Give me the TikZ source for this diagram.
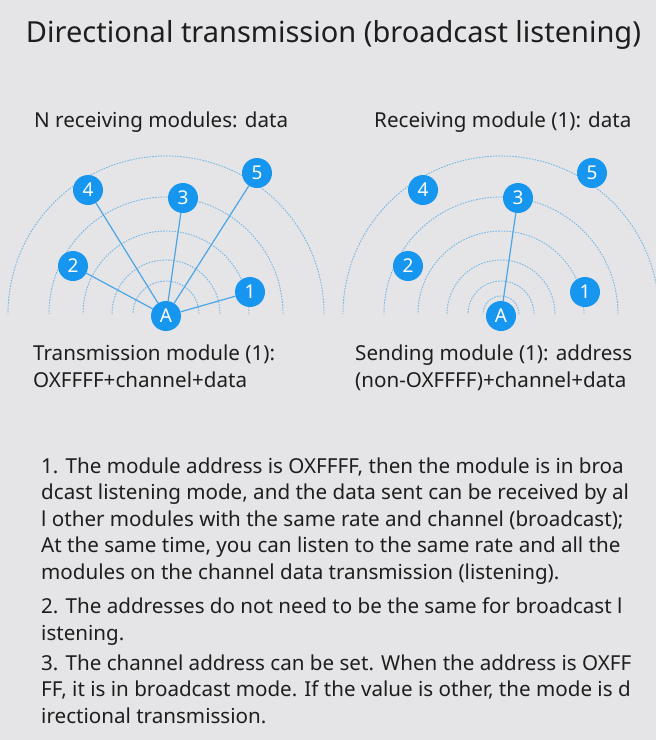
\documentclass[tikz,border=0pt]{standalone}
\usepackage{fontspec}
\setmainfont{Noto Sans}
\usetikzlibrary{positioning}
\definecolor{bggrey}{HTML}{E5E4E6}
\definecolor{modblue}{HTML}{1696EE}
\definecolor{linkblue}{HTML}{4AA6E6}
\definecolor{waveblue}{HTML}{74B8E8}
\definecolor{txtgrey}{HTML}{1E1E1E}
\tikzset{
    every node/.style={font=\fontsize{20.6}{26.5}\selectfont,text=txtgrey},
    module/.style={circle,fill=modblue,text=white,minimum size=30pt,inner sep=0pt,font=\fontsize{19}{19}\selectfont},
    link/.style={draw=linkblue,line width=1.2pt},
    wave/.style={draw=waveblue,line width=0.9pt,dash pattern=on 1.6pt off 1.2pt},
    txt/.style={anchor=base west,inner sep=0pt,align=left}
}
\begin{document}
\begin{tikzpicture}[x=1pt,y=-1pt]
\fill[bggrey] (0,0) rectangle (656,740);
\useasboundingbox (0,0) rectangle (656,740);

\node[anchor=base,inner sep=0pt,font=\fontsize{29}{29}\selectfont] (title) at (333.5,42) {Directional transmission (broadcast listening)};

% both diagrams share the same layout
\foreach \s/\cx in {l/166,r/501}{
  \foreach \r in {33,54,83,117,158}
    \draw[wave] (\cx+\r,314) arc[start angle=0,end angle=-180,radius=\r];
  \node[module] (\s A) at (\cx,316) {A};
  \node[module] (\s1) at (\cx+84,292) {1};
  \node[module] (\s2) at (\cx-93,266) {2};
  \node[module] (\s3) at (\cx+17,198) {3};
  \node[module] (\s4) at (\cx-78,190) {4};
  \node[module] (\s5) at (\cx+91,173) {5};
}
\draw[wave] (519,314) arc[start angle=0,end angle=-180,radius=18];

% broadcast: A reaches every module
\foreach \n in {1,...,5}
  \draw[link] (lA) -- (l\n);
% directional: A reaches module 3 only
\draw[link] (rA) -- (r3);

% multi-line nodes sit on the baseline of their last line
\node[txt] (lrecv) at (34,127) {N receiving modules: data};
\node[txt] (rrecv) at (374,127) {Receiving module (1): data};
\node[txt] (lsend) at (33,387) {Transmission module (1):\\OXFFFF+channel+data};
\node[txt] (rsend) at (355,387) {Sending module (1): address\\(non-OXFFFF)+channel+data};

\node[txt] (note1) at (41,579) {1. The module address is OXFFFF, then the module is in broa\\dcast listening mode, and the data sent can be received by al\\l other modules with the same rate and channel (broadcast);\\At the same time, you can listen to the same rate and all the\\modules on the channel data transmission (listening).};
\node[txt] (note2) at (41,640) {2. The addresses do not need to be the same for broadcast l\\istening.};
\node[txt] (note3) at (41,723) {3. The channel address can be set. When the address is OXFF\\FF, it is in broadcast mode. If the value is other, the mode is d\\irectional transmission.};
\end{tikzpicture}
\end{document}
